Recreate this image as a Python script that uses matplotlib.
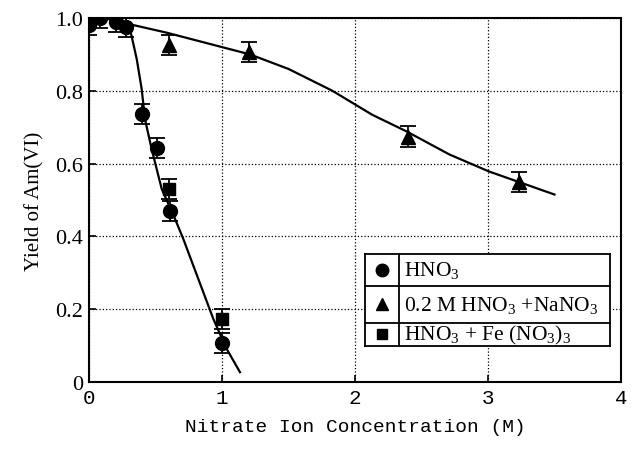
import matplotlib.pyplot as plt
import numpy as np

# data
x_hno3 = [0.0, 0.08, 0.2, 0.28, 0.4, 0.51, 0.61, 1.0]
y_hno3 = [0.98, 1.0, 0.99, 0.975, 0.737, 0.643, 0.47, 0.107]
x_nano3 = [0.6, 1.2, 2.4, 3.23]
y_nano3 = [0.926, 0.907, 0.674, 0.55]
x_fe = [0.6, 1.0]
y_fe = [0.53, 0.173]
err = 0.028

# fitted curves
cx_hno3 = [0.0, 0.15, 0.25, 0.3, 0.32, 0.359, 0.396, 0.421, 0.471, 0.509, 0.547,
           0.647, 0.709, 0.784, 0.86, 0.935, 1.035, 1.135]
cy_hno3 = [1.0, 0.997, 0.99, 0.975, 0.951, 0.887, 0.805, 0.722, 0.64, 0.585, 0.53,
           0.448, 0.393, 0.32, 0.246, 0.173, 0.091, 0.027]
cx_nano3 = [0.28, 0.58, 1.21, 1.5, 1.83, 2.13, 2.39, 2.71, 3.01, 3.5]
cy_nano3 = [0.985, 0.96, 0.9, 0.86, 0.8, 0.734, 0.688, 0.625, 0.578, 0.515]

legend_labels = [r'HNO$_3$', r'0.2 M HNO$_3$ +NaNO$_3$', r'HNO$_3$ + Fe (NO$_3$)$_3$']
legend_markers = ['o', '^', 's']

plt.rcParams['mathtext.fontset'] = 'custom'
plt.rcParams['mathtext.rm'] = 'Liberation Serif'
plt.rcParams['mathtext.it'] = 'Liberation Serif:italic'

fig = plt.figure(figsize=(6.33, 4.52), dpi=100)
ax = fig.add_axes([0.1406, 0.1527, 0.8404, 0.8053])

ax.plot(cx_hno3, cy_hno3, color='black', lw=1.6)
ax.plot(cx_nano3, cy_nano3, color='black', lw=1.6)
ax.errorbar(x_hno3, y_hno3, yerr=err, fmt='o', color='black', ms=10, capsize=6, elinewidth=1.3, capthick=1.3)
ax.errorbar(x_nano3, y_nano3, yerr=err, fmt='^', color='black', ms=10, capsize=6, elinewidth=1.3, capthick=1.3)
ax.errorbar(x_fe, y_fe, yerr=err, fmt='s', color='black', ms=8, capsize=6, elinewidth=1.3, capthick=1.3)

ax.set_xlim(0, 4)
ax.set_ylim(0, 1.0)
ax.set_xticks([0, 1, 2, 3, 4])
ax.set_yticks([0, 0.2, 0.4, 0.6, 0.8, 1.0])
ax.set_yticklabels(['0', '0.2', '0.4', '0.6', '0.8', '1.0'], family='Liberation Serif', fontsize=16)
ax.set_xticklabels(['0', '1', '2', '3', '4'], family='Liberation Mono', fontsize=15)
ax.tick_params(direction='in', length=5, width=1.2, pad=4)
ax.grid(True, linestyle=':', color='black', lw=0.9)
for s in ax.spines.values():
    s.set_linewidth(1.5)

ax.set_xlabel('Nitrate Ion Concentration (M)', family='Liberation Mono', fontsize=14, labelpad=8)
ax.set_ylabel('Yield of Am(VI)', family='Liberation Serif', fontsize=15, labelpad=8)

# table-style legend
x0, x1, xd = 0.519, 0.979, 0.583
rows = [0.352, 0.264, 0.162, 0.099]
ax.fill_between([x0, x1], rows[-1], rows[0], color='white', transform=ax.transAxes, zorder=5)
for yy in rows:
    ax.plot([x0, x1], [yy, yy], color='black', lw=1.3, transform=ax.transAxes, zorder=6)
for xx in [x0, xd, x1]:
    ax.plot([xx, xx], [rows[-1], rows[0]], color='black', lw=1.3, transform=ax.transAxes, zorder=6)
for i, (lab, mk) in enumerate(zip(legend_labels, legend_markers)):
    yc = (rows[i] + rows[i + 1]) / 2
    ax.plot([(x0 + xd) / 2], [yc], marker=mk, color='black', ms=9 if mk != 's' else 7,
            transform=ax.transAxes, zorder=7)
    ax.text(xd + 0.01, yc, lab, transform=ax.transAxes, va='center', ha='left',
            family='Liberation Serif', fontsize=15.5, zorder=7)

fig.savefig('out.png', dpi=100)
